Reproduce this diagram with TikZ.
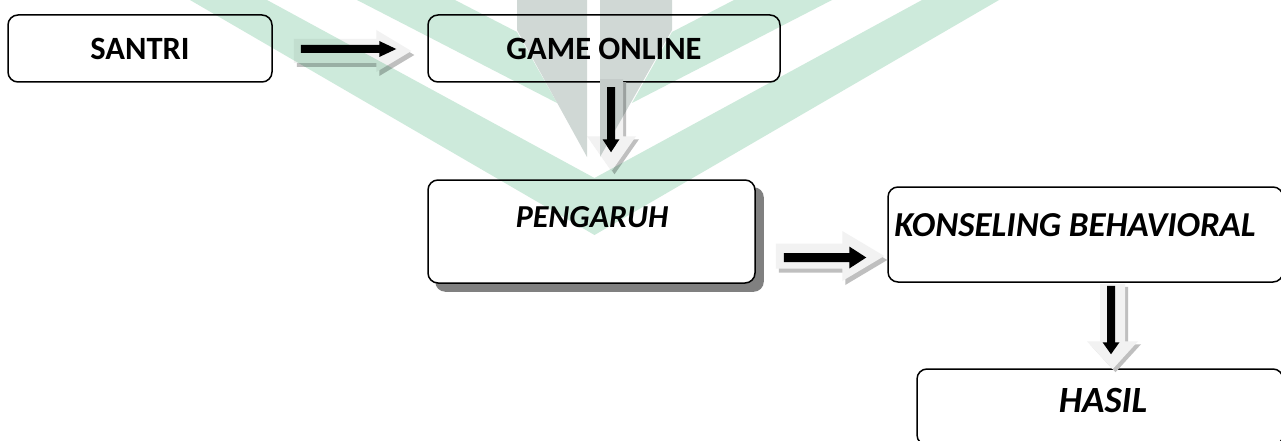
\documentclass[tikz,border=0pt]{standalone}
\usepackage{fontspec}
\setmainfont{Carlito}
\usetikzlibrary{calc,backgrounds}
\definecolor{wmgreen}{RGB}{205,234,219}
\definecolor{wmgray}{RGB}{208,216,213}
\definecolor{arlight}{RGB}{242,242,242}
\definecolor{arshadow}{RGB}{191,191,191}
\definecolor{boxshadow}{RGB}{128,128,128}
% horizontal block arrow: opts, start, tip, half shaft, half head, head length, dx, dy
\newcommand\harw[8]{\fill[#1] ($(#2)+(#7,#8)+(0,-#4)$) -- ($(#3)+(#7,#8)+(-#6,-#4)$) -- ($(#3)+(#7,#8)+(-#6,-#5)$) -- ($(#3)+(#7,#8)$) -- ($(#3)+(#7,#8)+(-#6,#5)$) -- ($(#3)+(#7,#8)+(-#6,#4)$) -- ($(#2)+(#7,#8)+(0,#4)$) -- cycle;}
% vertical (downward) block arrow
\newcommand\varw[8]{\fill[#1] ($(#2)+(#7,#8)+(-#4,0)$) -- ($(#3)+(#7,#8)+(-#4,-#6)$) -- ($(#3)+(#7,#8)+(-#5,-#6)$) -- ($(#3)+(#7,#8)$) -- ($(#3)+(#7,#8)+(#5,-#6)$) -- ($(#3)+(#7,#8)+(#4,-#6)$) -- ($(#2)+(#7,#8)+(#4,0)$) -- cycle;}
\tikzset{
  box/.style={draw=black, line width=1.5pt, rounded corners=10pt, fill=white, inner sep=0pt},
  lblup/.style={font=\bfseries\fontsize{32.5}{32.5}\selectfont, inner sep=0pt},
  lblit/.style={font=\bfseries\itshape\fontsize{32}{32}\selectfont, inner sep=0pt},
  lblitw/.style={font=\bfseries\itshape\fontsize{35}{35}\selectfont, inner sep=0pt},
  lblbig/.style={font=\bfseries\itshape\fontsize{37}{37}\selectfont, inner sep=0pt},
}
\begin{document}
\begin{tikzpicture}[x=1pt,y=-1pt]
\useasboundingbox (0,0) rectangle (1281,441);
% boxes
\node[box, lblup, minimum width=264pt, minimum height=67pt] (santri) at (140,48.5) {SANTRI};
\node[box, lblup, minimum width=352pt, minimum height=67pt] (game) at (604,48.5) {GAME ONLINE};
\node[box, minimum width=327pt, minimum height=103pt] (pengaruh) at (591.5,231.5) {};
\node[lblit] (pengaruht) at (592,217) {PENGARUH};
\node[box, minimum width=395pt, minimum height=95pt] (konseling) at (1085.5,234.5) {};
\node[lblitw] (konselingt) at (1075,225) {KONSELING BEHAVIORAL};
\node[box, minimum width=366pt, minimum height=76pt] (hasil) at (1100,407) {};
\node[lblbig] (hasilt) at (1103,401) {HASIL};
\begin{scope}[on background layer]
  \fill[white] (0,0) rectangle (1281,441);
  \fill[boxshadow, rounded corners=10pt] ($(pengaruh.north west)+(8,8)$) rectangle ($(pengaruh.south east)+(8,8)$);
\end{scope}
% arrow 1: santri -> game
\harw{arshadow}{$(santri.east)+(21,2.5)$}{$(game.west)+(-16,2.5)$}{12}{21}{35}{3}{4}
\harw{arlight}{$(santri.east)+(21,2.5)$}{$(game.west)+(-16,2.5)$}{12}{21}{35}{0}{0}
\harw{black}{$(santri.east)+(28,0.5)$}{$(game.west)+(-31,0.5)$}{4}{8}{17}{0}{0}
% arrow 2: game -> pengaruh
\varw{arshadow}{$(game.south)+(7.5,-3.5)$}{$(pengaruh.north)+(20,-8)$}{11.5}{24.5}{35}{3}{3}
\varw{arlight}{$(game.south)+(7.5,-3.5)$}{$(pengaruh.north)+(20,-8)$}{11.5}{24.5}{35}{0}{0}
\varw{black}{$(game.south)+(7,4.5)$}{$(pengaruh.north)+(19.5,-27)$}{4}{8.5}{13}{0}{0}
% arrow 3: pengaruh -> konseling
\harw{arshadow}{$(pengaruh.east)+(20,24.5)$}{$(konseling.west)+(-3,21.5)$}{12.5}{25}{42}{3}{4}
\harw{arlight}{$(pengaruh.east)+(20,24.5)$}{$(konseling.west)+(-3,21.5)$}{12.5}{25}{42}{0}{0}
\harw{black}{$(pengaruh.east)+(28,26)$}{$(konseling.west)+(-21,23)$}{4.5}{11}{17}{0}{0}
% arrow 4: konseling -> hasil
\varw{arshadow}{$(konseling.south)+(27,1)$}{$(hasil.north)+(12.5,1)$}{12.5}{25.5}{28}{3}{3}
\varw{arlight}{$(konseling.south)+(27,1)$}{$(hasil.north)+(12.5,1)$}{12.5}{25.5}{28}{0}{0}
\varw{black}{$(konseling.south)+(25.5,3)$}{$(hasil.north)+(11,-14)$}{4}{8.5}{12}{0}{0}
% watermark
\begin{scope}[blend mode=multiply]
  \fill[wmgreen] (190,0) -- (267,0) -- (594.5,178) -- (922,0) -- (999,0) -- (594.5,235) -- cycle;
  \fill[wmgreen] (357,0) -- (455,0) -- (517,32) -- (557,103) -- cycle;
  \fill[wmgreen] (832,0) -- (734,0) -- (672,32) -- (632,103) -- cycle;
  \fill[wmgray] (517,0) -- (587,0) -- (587,157) -- (517,30) -- cycle;
  \fill[wmgray] (600,0) -- (672,0) -- (672,30) -- (600,157) -- cycle;
\end{scope}
\end{tikzpicture}
\end{document}
